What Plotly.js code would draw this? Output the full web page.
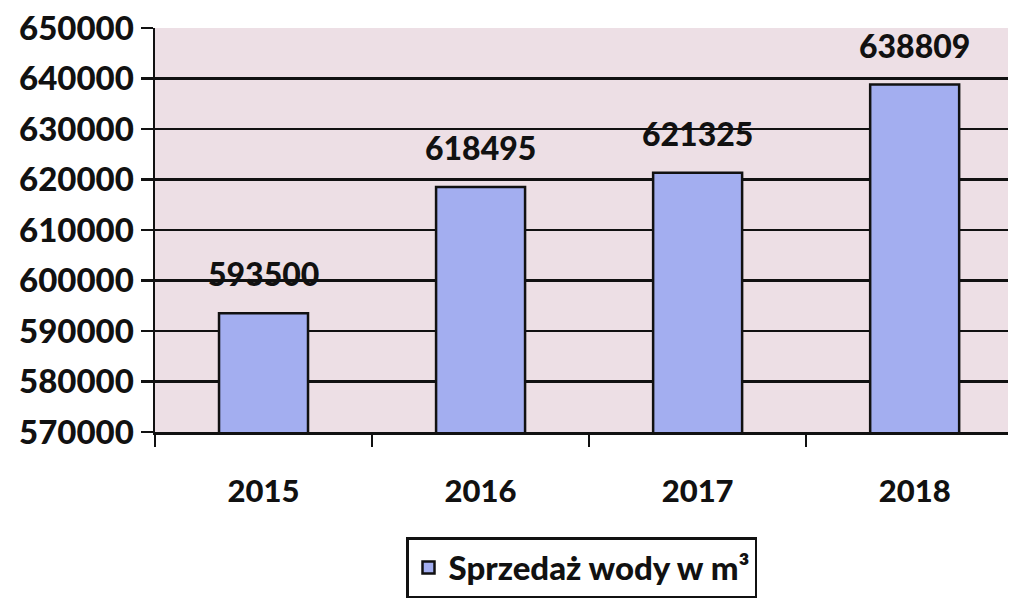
<!DOCTYPE html>
<html>
<head>
<meta charset="utf-8">
<script src="https://cdn.plot.ly/plotly-3.0.1.min.js"></script>
<style>html,body{margin:0;padding:0;background:#fff;}#chart{width:1011px;height:601px;}</style>
</head>
<body>
<div id="chart"></div>
<script>
var years = ['2015', '2016', '2017', '2018'];
var sales = [593500, 618495, 621325, 638809];
var seriesName = 'Sprzedaż wody w m³';
var yTicks = [570000, 580000, 590000, 600000, 610000, 620000, 630000, 640000, 650000];

var fontFam = 'Lato, "Open Sans", sans-serif';

var trace = {
  type: 'bar',
  x: years,
  y: sales,
  name: seriesName,
  width: 0.41,
  marker: {color: '#a3aef0', line: {color: '#111111', width: 2.5}},
  showlegend: true
};

var annotations = years.map(function (yr, i) {
  return {
    x: i, y: sales[i], xref: 'x', yref: 'y',
    text: String(sales[i]), showarrow: false,
    yanchor: 'bottom', yshift: 18,
    font: {family: fontFam, size: 32, color: '#111111', weight: 900}
  };
});

var layout = {
  width: 1011, height: 601,
  margin: {l: 155, r: 3, t: 28, b: 169},
  paper_bgcolor: '#ffffff',
  plot_bgcolor: '#eddfe5',
  bargap: 0.59,
  xaxis: {
    type: 'category',
    range: [-0.5, 3.43],
    showgrid: false,
    zeroline: false,
    showline: true, linecolor: '#111111', linewidth: 2.5,
    ticks: 'outside', tickson: 'boundaries', ticklen: 12, tickwidth: 2.5, tickcolor: '#111111',
    ticklabelstandoff: 30,
    tickfont: {family: fontFam, size: 31, color: '#111111', weight: 900}
  },
  yaxis: {
    range: [570000, 650000],
    tickvals: yTicks,
    ticktext: yTicks.map(String),
    showgrid: true, gridcolor: '#111111', gridwidth: 2.5,
    zeroline: false,
    showline: true, linecolor: '#111111', linewidth: 2.5,
    ticks: 'outside', ticklen: 12, tickwidth: 2.5, tickcolor: '#111111',
    tickfont: {family: fontFam, size: 33, color: '#111111', weight: 900}
  },
  showlegend: true,
  legend: {
    x: 0.5, xanchor: 'center', y: -0.26, yanchor: 'top',
    bordercolor: '#111111', borderwidth: 2.5, bgcolor: '#ffffff',
    font: {family: fontFam, size: 33, color: '#111111', weight: 900}
  },
  annotations: annotations
};

Plotly.newPlot('chart', [trace], layout, {displayModeBar: false, staticPlot: true});
</script>
</body>
</html>
